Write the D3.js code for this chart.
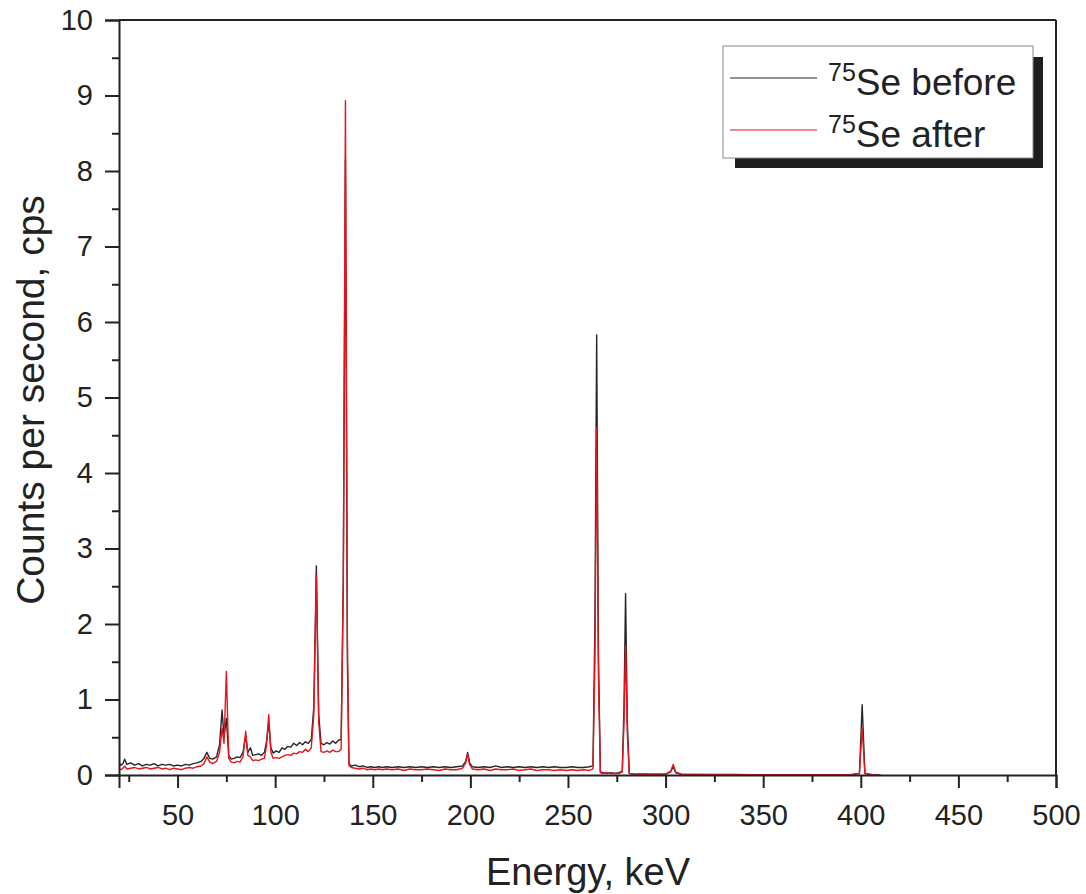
<!DOCTYPE html>
<html>
<head>
<meta charset="utf-8">
<script src="https://cdn.jsdelivr.net/npm/d3@7"></script>
<style>
  html, body { margin: 0; padding: 0; background: #fff; }
  svg { display: block; font-family: "Liberation Sans", Arial, Helvetica, sans-serif; }
</style>
</head>
<body>
<svg id="chart" width="1086" height="894"></svg>
<script>
// ---- data ----
const energy = [
  20, 21, 22, 22.9, 24, 26, 28, 30, 32, 34,
  36, 38, 40, 42, 44, 46, 48, 50, 52, 54,
  56, 58, 60, 62, 63.5, 65, 66.5, 68, 70, 71.5,
  72.8, 73.8, 75.0, 76.2, 77.5, 79, 80.5, 82, 83.5, 84.9,
  86, 87.3, 88.5, 90, 91.5, 93, 94.5, 95.6, 96.7, 97.8,
  99, 100.5, 102, 103.5, 105, 106.5, 108, 109.5, 111, 112.5,
  114, 115.5, 117, 118.5, 119.8, 121.1, 122.3, 123.5, 125, 126.5,
  128, 129.5, 131, 132.5, 133.8, 134.9, 136.0, 137.0, 137.8, 139,
  141, 143, 145, 147, 149, 151, 153, 155, 157, 160,
  163, 166, 169, 172, 175, 178, 181, 184, 187, 190,
  193, 196, 197.6, 198.6, 199.6, 201, 204, 207, 210, 213,
  216, 219, 222, 225, 228, 231, 234, 237, 240, 243,
  246, 249, 252, 255, 258, 261, 262.8, 263.8, 264.7, 265.6,
  266.6, 268, 270, 272, 274, 276, 277.8, 278.7, 279.5, 280.4,
  281.4, 284, 288, 292, 296, 300, 302.6, 303.9, 305.2, 308,
  315, 325, 335, 345, 355, 365, 375, 385, 395, 399.3,
  400.7, 402.1, 406, 410
];
const before = [
  0.16, 0.13, 0.15, 0.21, 0.14, 0.16, 0.13, 0.15, 0.12, 0.14,
  0.13, 0.15, 0.12, 0.14, 0.13, 0.14, 0.12, 0.13, 0.12, 0.14,
  0.13, 0.15, 0.16, 0.18, 0.22, 0.30, 0.22, 0.21, 0.24, 0.40,
  0.86, 0.50, 0.75, 0.26, 0.21, 0.22, 0.24, 0.23, 0.30, 0.52,
  0.30, 0.36, 0.26, 0.27, 0.28, 0.26, 0.30, 0.45, 0.69, 0.36,
  0.29, 0.32, 0.30, 0.36, 0.34, 0.38, 0.37, 0.42, 0.39, 0.43,
  0.40, 0.44, 0.42, 0.47, 0.90, 2.77, 0.80, 0.42, 0.40, 0.43,
  0.41, 0.45, 0.42, 0.46, 0.47, 2.50, 8.15, 1.50, 0.15, 0.12,
  0.13, 0.11, 0.12, 0.10, 0.11, 0.10, 0.11, 0.10, 0.11, 0.10,
  0.11, 0.10, 0.11, 0.10, 0.11, 0.10, 0.11, 0.10, 0.11, 0.10,
  0.11, 0.12, 0.18, 0.30, 0.16, 0.11, 0.10, 0.11, 0.10, 0.12,
  0.10, 0.11, 0.10, 0.11, 0.10, 0.11, 0.10, 0.11, 0.10, 0.11,
  0.10, 0.10, 0.11, 0.10, 0.10, 0.11, 0.12, 2.00, 5.83, 1.60,
  0.04, 0.03, 0.02, 0.03, 0.02, 0.03, 0.05, 0.90, 2.40, 0.70,
  0.02, 0.01, 0.015, 0.01, 0.01, 0.01, 0.04, 0.11, 0.03, 0.01,
  0.008, 0.006, 0.006, 0.005, 0.004, 0.004, 0.004, 0.003, 0.003, 0.02,
  0.93, 0.02, 0.003, 0.002
];
const after = [
  0.08, 0.07, 0.09, 0.12, 0.08, 0.09, 0.10, 0.08, 0.09, 0.10,
  0.08, 0.09, 0.10, 0.08, 0.09, 0.07, 0.09, 0.08, 0.07, 0.09,
  0.10, 0.09, 0.11, 0.12, 0.15, 0.24, 0.17, 0.15, 0.18, 0.30,
  0.62, 0.42, 1.37, 0.22, 0.17, 0.16, 0.18, 0.17, 0.24, 0.58,
  0.26, 0.24, 0.19, 0.20, 0.19, 0.21, 0.22, 0.40, 0.80, 0.30,
  0.22, 0.23, 0.22, 0.24, 0.26, 0.27, 0.26, 0.29, 0.28, 0.31,
  0.30, 0.34, 0.31, 0.36, 0.80, 2.65, 0.70, 0.31, 0.30, 0.32,
  0.30, 0.33, 0.31, 0.31, 0.34, 2.60, 8.93, 1.80, 0.13, 0.10,
  0.09, 0.08, 0.09, 0.07, 0.08, 0.07, 0.08, 0.07, 0.08, 0.07,
  0.08, 0.06, 0.08, 0.07, 0.07, 0.08, 0.07, 0.06, 0.08, 0.07,
  0.07, 0.09, 0.16, 0.28, 0.14, 0.08, 0.07, 0.08, 0.06, 0.08,
  0.07, 0.07, 0.08, 0.06, 0.07, 0.08, 0.06, 0.07, 0.07, 0.06,
  0.07, 0.06, 0.07, 0.06, 0.07, 0.06, 0.08, 1.50, 4.60, 1.30,
  0.03, 0.02, 0.03, 0.02, 0.02, 0.02, 0.04, 0.70, 1.72, 0.55,
  0.02, 0.01, 0.01, 0.01, 0.01, 0.01, 0.05, 0.14, 0.04, 0.01,
  0.006, 0.005, 0.004, 0.004, 0.004, 0.003, 0.003, 0.003, 0.003, 0.02,
  0.62, 0.02, 0.002, 0.002
];
const xTicks = [50, 100, 150, 200, 250, 300, 350, 400, 450, 500];
const xMinorTicks = [25, 75, 125, 175, 225, 275, 325, 375, 425, 475];
const yTicks = [0, 1, 2, 3, 4, 5, 6, 7, 8, 9, 10];
const yMinorTicks = [0.5, 1.5, 2.5, 3.5, 4.5, 5.5, 6.5, 7.5, 8.5, 9.5];
const seriesNames = ["Se before", "Se after"];
const isotope = "75";
const seriesColors = ["#262626", "#e8141c"];

// ---- layout ----
const svg = d3.select("#chart");
const L = 119, R = 1056, T = 20, B = 775;
const x = d3.scaleLinear().domain([20, 500]).range([L, R]);
const y = d3.scaleLinear().domain([0, 10]).range([B, T]);
const axisColor = "#222";

svg.append("defs").append("clipPath").attr("id", "plotclip")
  .append("rect").attr("x", L).attr("y", T).attr("width", R - L).attr("height", B - T);

// data lines
const rows = energy.map((e, i) => ({ e, b: before[i], a: after[i] }));
const lineB = d3.line().x(d => x(d.e)).y(d => y(d.b));
const lineA = d3.line().x(d => x(d.e)).y(d => y(d.a));
const g = svg.append("g").attr("clip-path", "url(#plotclip)");
g.append("path").datum(rows).attr("d", lineB)
  .attr("fill", "none").attr("stroke", seriesColors[0]).attr("stroke-width", 1.4).attr("stroke-linejoin", "round");
g.append("path").datum(rows).attr("d", lineA)
  .attr("fill", "none").attr("stroke", seriesColors[1]).attr("stroke-width", 1.4).attr("stroke-linejoin", "round");

// frame (top and right)
svg.append("line").attr("x1", L).attr("x2", R).attr("y1", T).attr("y2", T)
  .attr("stroke", axisColor).attr("stroke-width", 2);
svg.append("line").attr("x1", R).attr("x2", R).attr("y1", T).attr("y2", B)
  .attr("stroke", axisColor).attr("stroke-width", 2);

// axes
const fontTick = 29;
const yAxis = svg.append("g").attr("transform", `translate(${L},0)`)
  .call(d3.axisLeft(y).tickValues(yTicks).tickSize(14).tickPadding(12).tickFormat(d3.format("d")));
const yMinor = svg.append("g").attr("transform", `translate(${L},0)`)
  .call(d3.axisLeft(y).tickValues(yMinorTicks).tickSize(7).tickFormat(""));
const xAxis = svg.append("g").attr("transform", `translate(0,${B})`)
  .call(d3.axisBottom(x).tickValues(xTicks).tickSize(13).tickPadding(16).tickFormat(d3.format("d")));
const xMinor = svg.append("g").attr("transform", `translate(0,${B})`)
  .call(d3.axisBottom(x).tickValues(xMinorTicks).tickSize(7).tickFormat(""));

[yAxis, yMinor, xAxis, xMinor].forEach(a => {
  a.selectAll(".domain").attr("stroke", axisColor).attr("stroke-width", 2);
  a.selectAll(".tick line").attr("stroke", axisColor).attr("stroke-width", 2);
  a.selectAll("text").attr("fill", axisColor).style("font-size", fontTick + "px")
    .style("font-family", '"Liberation Sans", Arial, sans-serif');
});
yMinor.select(".domain").remove();
xMinor.select(".domain").remove();

// axis titles
svg.append("text").attr("x", 588).attr("y", 885).attr("text-anchor", "middle")
  .attr("fill", axisColor).style("font-size", "38px").text("Energy, keV");
svg.append("text").attr("transform", "translate(44,400) rotate(-90)").attr("text-anchor", "middle")
  .attr("fill", axisColor).style("font-size", "39px").text("Counts per second, cps");

// legend
const lg = svg.append("g");
lg.append("rect").attr("x", 735).attr("y", 57).attr("width", 308).attr("height", 111).attr("fill", "#1e1e1e");
lg.append("rect").attr("x", 723).attr("y", 46).attr("width", 310).attr("height", 112)
  .attr("fill", "#fff").attr("stroke", "#888").attr("stroke-width", 1);
const legY = [95, 147];
seriesNames.forEach((name, i) => {
  lg.append("line").attr("x1", 730).attr("x2", 817).attr("y1", legY[i] - 17).attr("y2", legY[i] - 17)
    .attr("stroke", seriesColors[i]).attr("stroke-width", 1.2);
  const t = lg.append("text").attr("x", 828).attr("y", legY[i]).attr("fill", axisColor);
  t.append("tspan").style("font-size", "25px").attr("dy", -14).text(isotope);
  t.append("tspan").style("font-size", "37px").attr("dy", 14).text(name);
});
</script>
</body>
</html>
